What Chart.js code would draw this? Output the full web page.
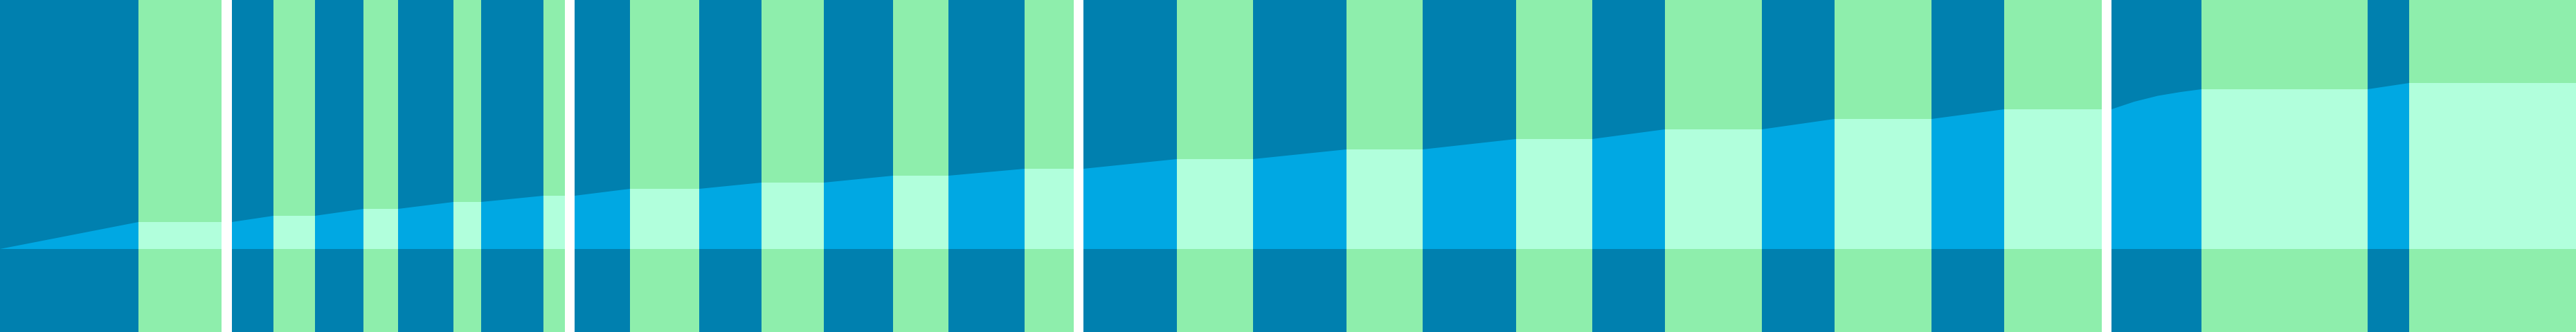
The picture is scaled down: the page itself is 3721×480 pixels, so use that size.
<!DOCTYPE html>
<html>
<head>
<meta charset="utf-8">
<script src="https://cdn.jsdelivr.net/npm/chart.js@4.4.1/dist/chart.umd.min.js"></script>
<style>
  html, body {
    margin: 0;
    padding: 0;
    background: #ffffff;
    overflow: hidden;
  }
  #grafica {
    display: block;
  }
</style>
</head>
<body>
<canvas id="grafica" width="3721" height="480"></canvas>
<script>
// limites de cada franja (eje x) y su tipo: A = activo, R = reposo, G = separador
let limitesFranjas = [0, 200, 320, 335, 395, 455, 525, 575, 655, 695, 785, 816, 830, 910, 1010, 1100, 1190, 1290, 1370, 1480, 1551, 1565, 1700, 1810, 1945, 2055, 2190, 2300, 2405, 2545, 2650, 2790, 2895, 3036, 3050, 3180, 3420, 3480, 3721];
let tiposFranjas = ['A', 'R', 'G', 'A', 'R', 'A', 'R', 'A', 'R', 'A', 'R', 'G', 'A', 'R', 'A', 'R', 'A', 'R', 'A', 'R', 'G', 'A', 'R', 'A', 'R', 'A', 'R', 'A', 'R', 'A', 'R', 'A', 'R', 'G', 'A', 'R', 'A', 'R'];

// curva acumulada
let acumuladoX = [0, 200, 320, 335, 395, 455, 525, 575, 655, 695, 785, 816, 830, 910, 1010, 1100, 1190, 1290, 1370, 1480, 1551, 1565, 1700, 1810, 1945, 2055, 2190, 2300, 2405, 2545, 2650, 2790, 2895, 3036, 3050, 3083, 3117, 3150, 3180, 3420, 3480, 3721];
let acumuladoY = [0, 39, 39, 39, 48, 48, 58, 58, 68, 68, 77, 77, 77, 87, 87, 96, 96, 106, 106, 116, 116, 116, 130, 130, 144, 144, 159, 159, 173, 173, 188, 188, 202, 202, 202, 213, 221.5, 227, 231, 231, 240, 240];

let ejeXMin = 0;
let ejeXMax = 3721;
let ejeYMin = -120;
let ejeYMax = 360;

let coloresFondo = { A: '#0080af', R: '#8eeeac', G: '#ffffff' };
let coloresRelleno = { A: '#00a8e3', R: '#b1ffdc', G: '#ffffff' };

// degradado horizontal con cortes duros en cada limite de franja
function degradadoFranjas(context, colores) {
  let chart = context.chart;
  let area = chart.chartArea;
  if (!area) {
    return colores.A;
  }
  let escalaX = chart.scales.x;
  let ancho = area.right - area.left;
  let gradiente = chart.ctx.createLinearGradient(area.left, 0, area.right, 0);
  for (let i = 0; i < tiposFranjas.length; i++) {
    let ini = (escalaX.getPixelForValue(limitesFranjas[i]) - area.left) / ancho;
    let fin = (escalaX.getPixelForValue(limitesFranjas[i + 1]) - area.left) / ancho;
    ini = Math.min(Math.max(ini, 0), 1);
    fin = Math.min(Math.max(fin, 0), 1);
    gradiente.addColorStop(ini, colores[tiposFranjas[i]]);
    gradiente.addColorStop(fin, colores[tiposFranjas[i]]);
  }
  return gradiente;
}

let puntosCurva = acumuladoX.map((x, i) => ({ x: x, y: acumuladoY[i] }));

let ctx = document.getElementById('grafica').getContext('2d');
new Chart(ctx, {
  type: 'line',
  data: {
    datasets: [{
      label: 'Acumulado',
      data: puntosCurva,
      order: 1,
      fill: { value: 0 },
      backgroundColor: (c) => degradadoFranjas(c, coloresRelleno),
      borderColor: 'transparent',
      borderWidth: 0,
      pointRadius: 0,
      tension: 0
    }, {
      label: 'Franjas',
      data: [{ x: ejeXMin, y: ejeYMax }, { x: ejeXMax, y: ejeYMax }],
      order: 2,
      fill: 'start',
      backgroundColor: (c) => degradadoFranjas(c, coloresFondo),
      borderColor: 'transparent',
      borderWidth: 0,
      pointRadius: 0,
      tension: 0
    }]
  },
  options: {
    responsive: false,
    devicePixelRatio: 1,
    animation: false,
    events: [],
    layout: { padding: 0 },
    plugins: {
      legend: { display: false },
      tooltip: { enabled: false },
      title: { display: false }
    },
    scales: {
      x: { type: 'linear', min: ejeXMin, max: ejeXMax, display: false },
      y: { type: 'linear', min: ejeYMin, max: ejeYMax, display: false }
    }
  }
});
</script>
</body>
</html>
